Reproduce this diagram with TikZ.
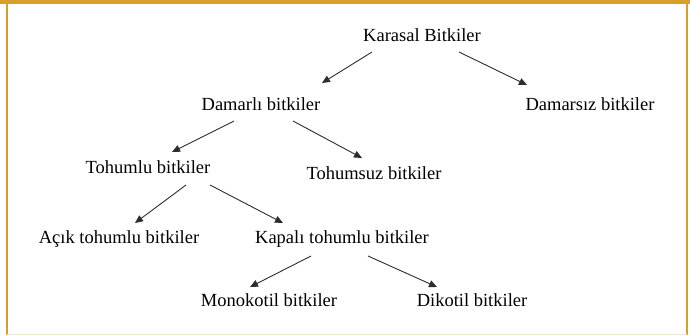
\documentclass[tikz,border=0pt]{standalone}
\usepackage{fontspec}
\setmainfont{Liberation Serif}
\usetikzlibrary{arrows.meta,calc}
\definecolor{frameor}{RGB}{219,157,44}
\definecolor{framebot}{RGB}{238,232,210}
\definecolor{arrgray}{RGB}{45,45,45}
\begin{document}
\begin{tikzpicture}[x=1pt,y=-1pt,
  lbl/.style={inner sep=0pt,font=\fontsize{18.5}{20}\selectfont},
  conn/.style={draw=arrgray,line width=0.9pt,-{Triangle[length=8pt,width=7pt]}}]
\useasboundingbox (0,0) rectangle (690,335);
% frame
\fill[frameor] (0,0) rectangle (690,3.5);
\draw[frameor,line width=1.2pt] (7,3.5) -- (7,335);
\draw[frameor,line width=1.2pt] (687,3.5) -- (687,335);
\draw[framebot,line width=1pt] (7,334) -- (687,334);
% nodes
\node[lbl] (k)  at (422,35)  {Karasal Bitkiler};
\node[lbl] (d)  at (261,104) {Damarlı bitkiler};
\node[lbl] (ds) at (590,104) {Damarsız bitkiler};
\node[lbl] (t)  at (148,167) {Tohumlu bitkiler};
\node[lbl] (ts) at (374,173) {Tohumsuz bitkiler};
\node[lbl] (a)  at (119,239) {Açık tohumlu bitkiler};
\node[lbl] (kp) at (342,239) {Kapalı tohumlu bitkiler};
\node[lbl] (m)  at (269,300) {Monokotil bitkiler};
\node[lbl] (dk) at (472,300) {Dikotil bitkiler};
% connectors
\draw[conn] ($(k)+(-50,17)$) -- ($(d)+(61,-21)$);
\draw[conn] ($(k)+(37,17)$) -- ($(ds)+(-63,-19)$);
\draw[conn] ($(d)+(-27,17)$) -- ($(t)+(24,-15)$);
\draw[conn] ($(d)+(32,17)$) -- ($(ts)+(-12,-15)$);
\draw[conn] ($(t)+(38,18)$) -- ($(a)+(16,-16)$);
\draw[conn] ($(t)+(62,18)$) -- ($(kp)+(-59,-16)$);
\draw[conn] ($(kp)+(-31,17)$) -- ($(m)+(-19,-13)$);
\draw[conn] ($(kp)+(26,17)$) -- ($(dk)+(-35,-13)$);
\end{tikzpicture}
\end{document}
